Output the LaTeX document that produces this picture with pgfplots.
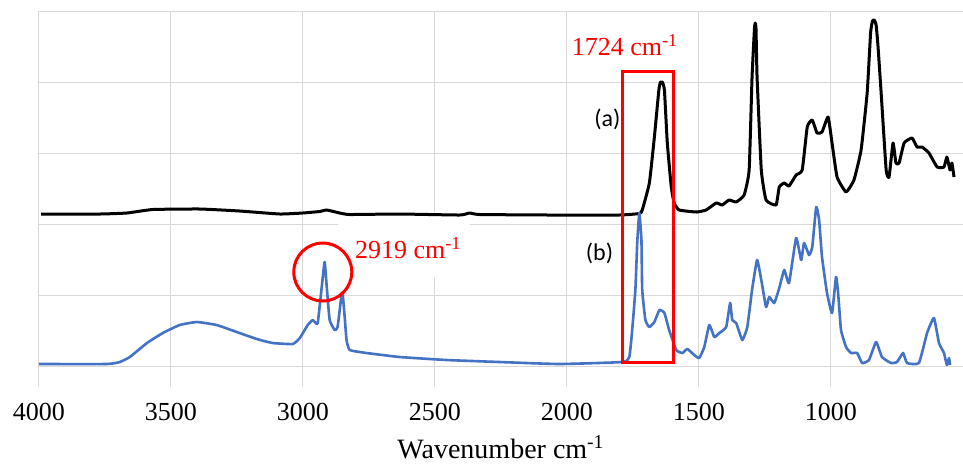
\documentclass[border=0pt]{standalone}
\usepackage{fontspec}
\setmainfont{Liberation Serif}
\newfontfamily\calibri{Carlito}
\usepackage{pgfplots}
\pgfplotsset{compat=1.18}
\definecolor{specblue}{HTML}{4472C4}
\definecolor{gridgray}{HTML}{D9D9D9}
\definecolor{annred}{HTML}{FF0000}
\begin{document}
\begin{tikzpicture}
\begin{axis}[
    name=ax,
    scale only axis,
    width=462pt,
    height=188pt,
    x dir=reverse,
    xmin=500, xmax=4000,
    ymin=-21, ymax=355,
    xtick={1000,1500,...,4000},
    ytick={0,71,142,213,284,355},
    yticklabels={},
    xmajorgrids, ymajorgrids,
    grid style={gridgray, line width=0.5pt},
    axis line style={draw=none},
    tick style={draw=none},
    /pgf/number format/1000 sep={},
    /pgf/number format/assume math mode=true,
    ticklabel style={font=\fontsize{13}{15}\selectfont},
    xticklabel style={yshift=-4.5pt},
    xlabel={Wavenumber cm\textsuperscript{-1}},
    xlabel style={font=\fontsize{14}{16}\selectfont, yshift=-0.5pt},
    clip=false
]
% white box behind the 2919 label
\fill[white] (axis cs:2869,89) rectangle (axis cs:2369,153);

% (a) black spectrum
\addplot[black, line width=1.5pt, line join=round, smooth, tension=0.25] coordinates {
(3992,152) (3769,152) (3667,153) (3569,156.5) (3391,157) (3240,155) (3088,152)
(3001,153) (2937,154.5) (2910,156) (2861,153) (2823,151.5) (2634,152) (2407,151)
(2369,153) (2331,151.5) (2067,151) (1802,151) (1726,152.5) (1715,156) (1688,183)
(1669,229) (1652,276) (1646,284) (1639,284) (1631,276) (1620,223) (1605,179) (1594,163)
(1575,156) (1510,154) (1473,156) (1435,163) (1412,161) (1386,166) (1359,164)
(1329,171) (1310,196) (1299,289) (1290,337) (1287,343) (1284,337) (1280,289) (1264,196) (1246,166)
(1208,161) (1196,179) (1177,183) (1159,180) (1132,191) (1109,196) (1090,239)
(1071,246) (1053,233) (1034,234) (1011,249) (996,223) (977,189) (943,174)
(913,186) (886,216) (863,273) (850,333) (843,345) (836,346) (829,341) (822,320)
(810,273) (791,196) (780,189)
(765,223) (754,203) (742,203) (723,223) (693,228) (674,219) (655,219) (629,213)
(598,199) (572,199) (561,209) (549,196) (542,203) (534,189)
};

% (b) blue spectrum
\addplot[specblue, line width=1.3pt, line join=round, smooth, tension=0.25] coordinates {
(4000,2) (3743,2) (3694,4) (3656,9) (3591,23) (3531,33) (3467,41) (3402,44)
(3327,41) (3251,34) (3175,27) (3115,23) (3039,22) (3012,28) (2982,41) (2963,46)
(2952,43) (2944,43) (2929,79) (2918,104) (2910,79) (2899,46) (2880,36) (2869,39)
(2854,71) (2850,73) (2842,49) (2835,26) (2823,16) (2759,13) (2634,9) (2456,6)
(2256,4) (2029,2) (1790,4) (1764,9) (1753,36) (1741,76) (1734,123) (1726,153)
(1718,126) (1715,76) (1703,46) (1688,39) (1669,44) (1650,56) (1631,53) (1613,36)
(1586,16) (1563,13) (1544,17) (1518,11) (1499,8) (1480,19) (1461,41) (1442,29)
(1423,33) (1397,39) (1382,63) (1374,46) (1359,43) (1336,26) (1317,39) (1299,76)
(1280,106) (1264,86) (1246,59) (1234,69) (1215,63) (1196,78) (1177,96) (1159,83)
(1132,128) (1113,106) (1102,123) (1083,111) (1071,119) (1056,159) (1045,146)
(1034,109) (1015,73) (996,53) (981,89) (973,73) (962,36) (943,19) (924,13)
(901,13) (882,3) (856,6) (829,24) (807,9) (773,3) (750,4) (727,13) (712,3)
(667,3) (636,33) (610,48) (591,23) (572,13) (561,1) (553,8) (549,1)
};

% annotations
\draw[annred, line width=1.5pt] (axis cs:1790,4) rectangle (axis cs:1597,295);
\draw[annred, line width=1.5pt] (axis cs:2925,94) circle[radius=14.5pt];
\node[annred, anchor=base west, inner sep=0pt, font=\fontsize{13}{15}\selectfont]
    at (axis cs:1983,311) {1724 cm\textsuperscript{-1}};
\node[annred, anchor=base west, inner sep=0pt, font=\fontsize{13}{15}\selectfont]
    at (axis cs:2804,108) {2919 cm\textsuperscript{-1}};
\node[font=\calibri\fontsize{12}{14}\selectfont] at (axis cs:1847,247) {(a)};
\node[font=\calibri\fontsize{12}{14}\selectfont] at (axis cs:1877,113) {(b)};
\end{axis}
\pgfresetboundingbox
\path[use as bounding box] ([xshift=-19.5pt,yshift=-38pt]ax.south west)
    rectangle ([yshift=5.5pt]ax.north east);
\end{tikzpicture}
\end{document}
